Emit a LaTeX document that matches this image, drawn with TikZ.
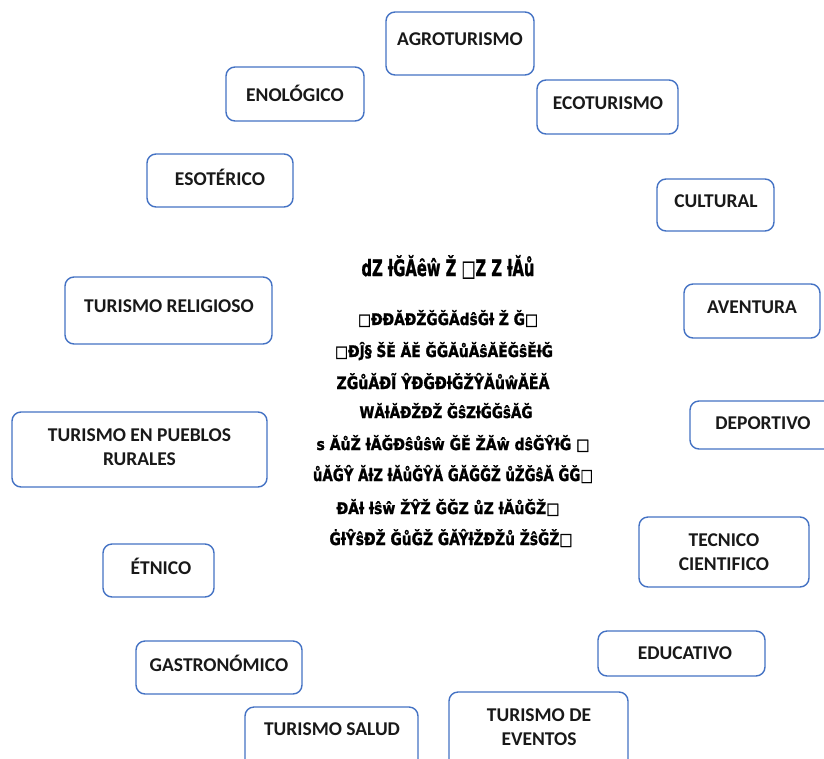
\documentclass[tikz,border=0pt]{standalone}
\usepackage{fontspec}
\usepackage{graphicx}
\setmainfont{Carlito}
\newfontfamily\garble[BoldFeatures={FakeBold=1.5}]{DejaVu Sans}
\definecolor{boxblue}{HTML}{4472C4}
\newcommand\gline[3]{\resizebox{#1pt}{#2pt}{#3}}
\tikzset{
  tbox/.style={draw=boxblue, line width=1.4pt, rounded corners=9pt, fill=white, inner sep=0pt},
  lbl/.style={font=\bfseries\fontsize{19.5}{22}\selectfont, text=black!90, inner sep=0pt, align=center},
  glab/.style={font=\garble\bfseries, text=black, inner sep=0pt, anchor=base},
}
\begin{document}
\begin{tikzpicture}[x=1pt,y=-1pt]
\useasboundingbox (0,0) rectangle (824,758);
\fill[white] (0,0) rectangle (824,758);
% boxes
\draw[tbox] (386,12) rectangle (534,75) node[pos=0.5] (agroBox) {};
\node[lbl] (agro) at (460,39) {AGROTURISMO};
\draw[tbox] (226,67) rectangle (364,121) node[pos=0.5] (enoBox) {};
\node[lbl] (eno) at (295,93) {ENOLÓGICO};
\draw[tbox] (537,80) rectangle (678,134) node[pos=0.5] (ecoBox) {};
\node[lbl] (eco) at (608,103) {ECOTURISMO};
\draw[tbox] (147,154) rectangle (293,207) node[pos=0.5] (esoBox) {};
\node[lbl] (eso) at (220,177) {ESOTÉRICO};
\draw[tbox] (657,179) rectangle (774,231) node[pos=0.5] (culBox) {};
\node[lbl] (cul) at (716,201) {CULTURAL};
\draw[tbox] (65,277) rectangle (272,344) node[pos=0.5] (relBox) {};
\node[lbl] (rel) at (169,306) {TURISMO RELIGIOSO};
\draw[tbox] (684,284) rectangle (820,338) node[pos=0.5] (avBox) {};
\node[lbl] (av) at (752,307) {AVENTURA};
\draw[tbox] (12,412) rectangle (267,487) node[pos=0.5] (pueBox) {};
\node[lbl] (pue1) at (139.5,435) {TURISMO EN PUEBLOS};
\node[lbl] (pue2) at (139.5,459) {RURALES};
\draw[tbox] (690,401) rectangle (840,449) node[pos=0.5] (depBox) {};
\node[lbl] (dep) at (763,423) {DEPORTIVO};
\draw[tbox] (103,544) rectangle (214,597) node[pos=0.5] (etBox) {};
\node[lbl] (et) at (161,566) {ÉTNICO};
\draw[tbox] (639,517) rectangle (809,587) node[pos=0.5] (tecBox) {};
\node[lbl] (tec1) at (724,540) {TECNICO};
\node[lbl] (tec2) at (724,564) {CIENTIFICO};
\draw[tbox] (136,641) rectangle (302,694) node[pos=0.5] (gasBox) {};
\node[lbl] (gas) at (219,663) {GASTRONÓMICO};
\draw[tbox] (598,631) rectangle (765,676) node[pos=0.5] (eduBox) {};
\node[lbl] (edu) at (685,653) {EDUCATIVO};
\draw[tbox] (245,707) rectangle (418,780) node[pos=0.5] (salBox) {};
\node[lbl] (sal) at (332,729) {TURISMO SALUD};
\draw[tbox] (449,692) rectangle (628,780) node[pos=0.5] (evBox) {};
\node[lbl] (ev1) at (539,715) {TURISMO DE};
\node[lbl] (ev2) at (539,739) {EVENTOS};
% centre (garbled) text, baselines
\node[glab] (title) at (448,276) {\gline{173}{21}{dZ ƚĞĂȇŵ Ž □Z Z ƚĂů}};
\node[glab] (g1) at (448,325) {\gline{180}{15}{□ĐĐĂĐŽĞĞĂdŝĞƚ Ž Ğ□}};
\node[glab] (g2) at (444,357) {\gline{218}{15}{□ĐĴ§ ŠĔ ĂĔ ĞĞĂůĂŝĂĚĞŝĚƚĞ}};
\node[glab] (g3) at (443,389) {\gline{213}{16}{ZĞůĂĐĨ ŶĐĞĐƚĞŽŶĂůŵĂĔĂ}};
\node[glab] (g4) at (446,418) {\gline{173}{15}{WĂƚĂĐŽĐŽ ĞŝZƚĞĞŝĂĞ}};
\node[glab] (g5) at (453,450) {\gline{273}{15}{s ĂůŽ ƚĂĞĐŝůŝŵ ĞĔ ŽĂŵ dŝĞŶƚĞ □}};
\node[glab] (g6) at (453,481) {\gline{280}{16}{ůĂĞŶ ĂƚZ ƚĂůĞŶĂ ĞĂĞĞŽ ůŽĞŝĂ ĞĞ□}};
\node[glab] (g7) at (448,514) {\gline{223}{15}{ĐĂƚ ƚŝŵ ŽŶŽ ĞĞZ ůZ ƚĂůĞŽ□}};
\node[glab] (g8) at (451,545) {\gline{243}{16}{ĠƚŶŝĐŽ ĞůĞŽ ĞĂŶƚŽĐŽů ŽŝĞŽ□}};
\end{tikzpicture}
\end{document}
